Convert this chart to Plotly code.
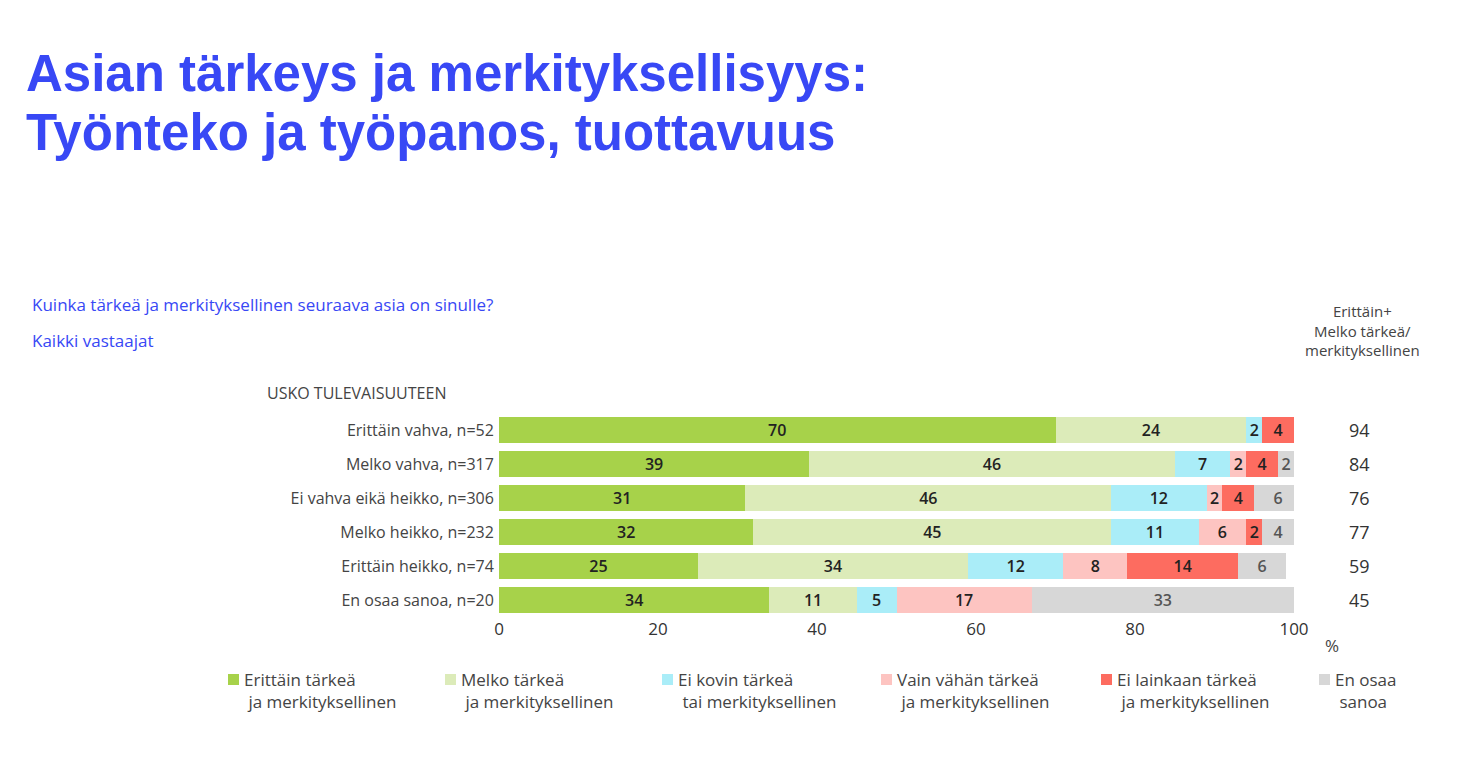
import plotly.graph_objects as go

categories = ["Erittäin vahva, n=52", "Melko vahva, n=317", "Ei vahva eikä heikko, n=306",
              "Melko heikko, n=232", "Erittäin heikko, n=74", "En osaa sanoa, n=20"]
series_names = ["Erittäin tärkeä<br>ja merkityksellinen", "Melko tärkeä<br>ja merkityksellinen",
                "Ei kovin tärkeä<br>tai merkityksellinen", "Vain vähän tärkeä<br>ja merkityksellinen",
                "Ei lainkaan tärkeä<br>ja merkityksellinen", "En osaa<br>sanoa"]
values = [
    [70, 39, 31, 32, 25, 34],
    [24, 46, 46, 45, 34, 11],
    [2, 7, 12, 11, 12, 5],
    [0, 2, 2, 6, 8, 17],
    [4, 4, 4, 2, 14, 0],
    [0, 2, 6, 4, 6, 33],
]
totals = [94, 84, 76, 77, 59, 45]
colors = ["#a7d24a", "#dcebb9", "#aaedf8", "#fdc4c1", "#fd6c60", "#d7d7d7"]
text_colors = ["#222", "#222", "#222", "#222", "#fff", "#555"]

fig = go.Figure()
for name, vals, c, tc in zip(series_names, values, colors, text_colors):
    fig.add_trace(go.Bar(
        y=categories, x=vals, orientation="h", name=name, marker=dict(color=c, line=dict(width=0)),
        text=[str(v) if v else "" for v in vals], textposition="inside", insidetextanchor="middle",
        textfont=dict(color="#222" if tc != "#555" else "#555", size=16, family="Open Sans", weight=600),
        textangle=0, showlegend=False, constraintext="none"))

OX, OY = 8, 8  # page offset
W, H = 1470 - 2 * OX, 763 - 2 * OY
L, R, T, B = 499 - OX, 1470 - OX - 1294 - OX, 413 - OY, 763 - OY - 617 - OY
# recompute so plot area maps to absolute screen 499..1294, 413..617
L = 499 - OX
R = W - (1294 - OX)
T = 413 - OY
B = H - (617 - OY)

fig.update_layout(
    width=W, height=H, barmode="stack", bargap=0.23,
    margin=dict(l=L, r=R, t=T, b=B), plot_bgcolor="white", paper_bgcolor="white",
    font=dict(family="Open Sans", color="#333"),
    xaxis=dict(range=[0, 100], tickvals=[0, 20, 40, 60, 80, 100], showgrid=False, zeroline=False,
               tickfont=dict(size=17, color="#333"), ticks="", ticklen=0),
    yaxis=dict(autorange="reversed", showgrid=False, tickfont=dict(size=16, color="#444"),
               ticksuffix=" "),
)

def pa(x, y, text, size, color, **kw):
    # x, y in absolute screen pixels
    x -= OX
    y -= OY
    fx = (x - L) / (W - L - R)
    fy = (H - B - y) / (H - T - B)
    fig.add_annotation(x=fx, y=fy, xref="paper", yref="paper", text=text, showarrow=False,
                       xanchor=kw.get("xanchor", "left"), yanchor=kw.get("yanchor", "middle"),
                       align=kw.get("align", "left"),
                       font=dict(size=size, color=color, family=kw.get("family", "Open Sans")))

blue = "#3848f5"
pa(24, 73, "<b>Asian tärkeys ja merkityksellisyys:</b>", 51, blue, family="Liberation Sans")
pa(24, 132, "<b>Työnteko ja työpanos, tuottavuus</b>", 51, blue, family="Liberation Sans")
pa(30, 304, "Kuinka tärkeä ja merkityksellinen seuraava asia on sinulle?", 17, blue)
pa(30, 340, "Kaikki vastaajat", 17, blue)
pa(265, 393, "USKO TULEVAISUUTEEN", 16, "#444")
pa(1362, 330, "Erittäin+<br>Melko tärkeä/<br>merkityksellinen", 15, "#444", xanchor="center", align="center")
pa(1323, 645, "%", 17, "#444")

for i, t in enumerate(totals):
    fig.add_annotation(x=1.082, y=categories[i], xref="paper", yref="y", text=str(t), showarrow=False,
                       xanchor="center", font=dict(size=18, color="#333"))

leg_x = [228, 445, 662, 881, 1101, 1319]
for x0, name, c in zip(leg_x, series_names, colors):
    x0s = x0 - OX
    fx0 = (x0s - L) / (W - L - R)
    fx1 = (x0s + 11 - L) / (W - L - R)
    fy0 = (H - B - (685 - OY)) / (H - T - B)
    fy1 = (H - B - (674 - OY)) / (H - T - B)
    fig.add_shape(type="rect", xref="paper", yref="paper", x0=fx0, x1=fx1, y0=fy0, y1=fy1,
                  fillcolor=c, line=dict(width=0))
    pa(x0 + 14, 690, name.replace("<br>", "<br> "), 17, "#444")

fig.write_html("out.html")
